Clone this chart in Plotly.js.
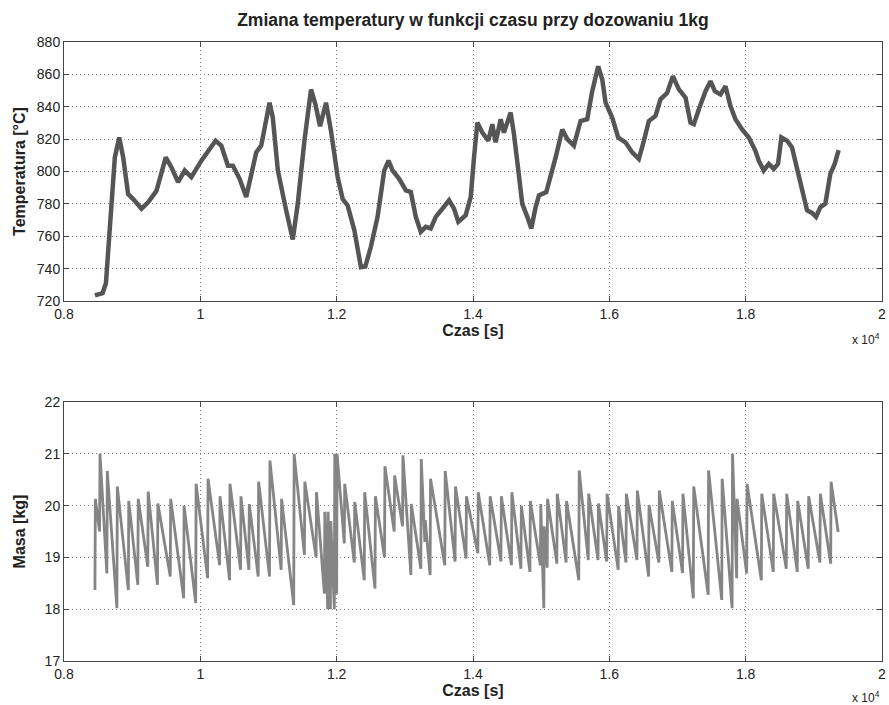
<!DOCTYPE html>
<html>
<head>
<meta charset="utf-8">
<script src="https://cdn.plot.ly/plotly-3.0.1.min.js"></script>
<style>html,body{margin:0;padding:0;background:#fff;}#chart{width:889px;height:705px;}</style>
</head>
<body>
<div id="chart"></div>
<script>
// Temperature series (time in s, temperature in °C)
const tempTime = [8454,8566,8615,8663,8698,8746,8810,8868,8941,9015,9137,9234,9356,9493,9576,9673,9771,9868,10015,10112,10224,10307,10405,10478,10576,10673,10746,10820,10893,10956,11015,11063,11137,11259,11356,11429,11527,11624,11688,11756,11844,11917,12015,12088,12161,12259,12356,12420,12502,12600,12698,12761,12820,12917,13015,13088,13161,13234,13307,13380,13454,13551,13649,13722,13785,13893,13966,14015,14064,14137,14225,14283,14332,14406,14454,14552,14601,14665,14723,14797,14855,14919,14968,15075,15138,15212,15310,15383,15480,15578,15676,15749,15837,15896,15945,16042,16130,16237,16336,16433,16507,16580,16677,16751,16849,16932,17020,17118,17191,17240,17313,17411,17484,17548,17631,17704,17777,17850,17948,18046,18143,18192,18265,18339,18412,18475,18524,18607,18680,18753,18827,18900,18973,19032,19096,19169,19242,19306,19364];
const tempValue = [723.5,724.9,731,759.7,788,808.7,821,808.7,786,783,777,781,788,808.7,802.6,793.4,800.6,796.5,806.7,812.8,819,816,803.6,803.6,795.5,784.2,796.5,811.8,816,831,842.5,833.3,800.6,776,758,780,819,850.7,841.5,828,842.5,825,796.5,783,779,763.8,740.9,741.3,753.5,772,800.6,806.7,800.6,795.5,788.3,787.3,772,762.7,765.8,764.8,772,777,782.2,777,768.9,773,784.2,808.7,830.2,824,819,829.2,818,832.3,824,836.4,823,800.6,780,772,764.8,778,785.2,787.3,796.5,808.7,826,820,816,831.2,832.3,849.6,865,856.8,842.5,833.3,821,818,811.8,807.7,819,831.2,834.3,844.6,848.6,858.9,850.7,845.6,830.2,829.2,838.4,849.6,855.8,849.6,847.6,852.7,840.4,832.3,826,821,812.8,806.7,800.6,804.7,801.6,804.7,821,819,814.9,802.6,788.3,776,774.4,772,778,780.1,798.5,804.7,813.2];

// Mass series: each dosing tooth = time of rise (s), mass just before rise, mass after rise (kg)
const riseTime = [8454,8522,8629,8776,8944,9083,9229,9371,9559,9756,9932,10107,10283,10429,10590,10712,10849,11015,11186,11370,11527,11698,11820,11868,11908,11966,12000,12112,12259,12405,12562,12702,12844,12966,13089,13235,13293,13371,13586,13737,13898,14071,14246,14410,14564,14703,14835,14988,15039,15088,15230,15366,15552,15691,15834,15961,16130,16244,16405,16576,16727,16917,17074,17232,17450,17649,17801,17868,18015,18230,18405,18596,18757,18918,19089,19247];
const troughMass = [18.37,19.5,18.69,18.02,18.37,18.47,18.82,18.47,18.63,18.21,18.12,18.6,18.85,18.56,18.76,18.76,18.63,18.63,18.76,18.08,19.05,19.0,18.3,18.0,18.0,18.0,18.3,19.27,18.9,18.56,18.4,19.0,19.5,19.6,18.66,18.78,19.3,18.66,18.85,18.92,18.98,19.08,18.85,18.92,18.85,18.78,18.72,18.85,18.02,18.8,18.88,18.9,18.56,18.95,18.95,18.92,18.76,18.9,18.95,18.63,18.9,18.72,18.7,18.21,18.28,18.18,18.02,18.6,18.69,18.56,18.72,18.78,18.72,18.78,18.9,18.88];
const peakMass = [20.13,21.0,20.67,20.37,20.09,20.13,20.27,20.04,20.13,20.0,20.42,20.52,20.18,20.42,20.18,20.03,20.46,20.87,20.13,21.0,20.46,20.26,19.88,19.88,19.7,21.0,21.0,20.42,20.07,20.26,20.18,20.76,20.58,20.97,20.03,20.9,19.72,20.52,20.67,20.37,20.18,20.26,20.18,20.18,20.26,20.0,20.09,20.03,19.6,20.13,20.23,20.09,20.68,20.23,20.04,20.23,19.99,20.23,20.29,20.01,20.29,20.09,20.23,20.37,20.68,20.52,21.0,20.13,20.42,20.23,20.23,20.23,20.09,20.18,20.23,20.46];
const endTime = 19357, endMass = 19.49;

const xTickVals = [8000,10000,12000,14000,16000,18000,20000];
const xTickText = ['0.8','1','1.2','1.4','1.6','1.8','2'];

const massX = [], massY = [];
for (let i = 0; i < riseTime.length; i++) {
  massX.push(riseTime[i], riseTime[i] + 6);
  massY.push(troughMass[i], peakMass[i]);
}
massX.push(endTime); massY.push(endMass);

const FONT = 'Liberation Sans, Arial, sans-serif';
const axisCommon = {
  showline: true, linecolor: '#444', linewidth: 1, mirror: 'ticks',
  ticks: 'inside', ticklen: 5, tickcolor: '#444',
  showgrid: true, gridcolor: '#888', griddash: '1px,3px', gridwidth: 1,
  zeroline: false, tickfont: {family: FONT, size: 14, color: '#222'}
};
const titleFont = {family: FONT, size: 16, color: '#222'};

const data = [
  {x: tempTime, y: tempValue, type: 'scatter', mode: 'lines', xaxis: 'x', yaxis: 'y',
   line: {color: '#555555', width: 4.5}, hoverinfo: 'skip'},
  {x: massX, y: massY, type: 'scatter', mode: 'lines', xaxis: 'x2', yaxis: 'y2',
   line: {color: '#858585', width: 2.8}, hoverinfo: 'skip'}
];

const layout = {
  width: 889, height: 705, showlegend: false,
  paper_bgcolor: '#fff', plot_bgcolor: '#fff',
  margin: {l: 64, r: 7, t: 42, b: 44},
  title: {text: '<b>Zmiana temperatury w funkcji czasu przy dozowaniu 1kg</b>', x: 0.532, xanchor: 'center', y: 0.972, yanchor: 'middle',
          font: {family: FONT, size: 17.5, color: '#222'}},
  xaxis: Object.assign({}, axisCommon, {domain: [0,1], anchor: 'y', range: [8000,20000], tickvals: xTickVals, ticktext: xTickText,
          title: {text: '<b>Czas [s]</b>', font: titleFont, standoff: 4}}),
  yaxis: Object.assign({}, axisCommon, {domain: [0.5816,1], anchor: 'x', range: [720,880], dtick: 20,
          title: {text: '<b>Temperatura [°C]</b>', font: titleFont, standoff: 7}}),
  xaxis2: Object.assign({}, axisCommon, {domain: [0,1], anchor: 'y2', range: [8000,20000], tickvals: xTickVals, ticktext: xTickText,
          title: {text: '<b>Czas [s]</b>', font: titleFont, standoff: 4}}),
  yaxis2: Object.assign({}, axisCommon, {domain: [0,0.4184], anchor: 'x2', range: [17,22], dtick: 1,
          title: {text: '<b>Masa [kg]</b>', font: titleFont, standoff: 15}}),
  annotations: [
    {text: 'x 10<sup>4</sup>', xref: 'paper', yref: 'paper', x: 1, y: 0.5816, xanchor: 'right', yanchor: 'top', yshift: -28,
     showarrow: false, font: {family: FONT, size: 12, color: '#222'}},
    {text: 'x 10<sup>4</sup>', xref: 'paper', yref: 'paper', x: 1, y: 0, xanchor: 'right', yanchor: 'top', yshift: -26,
     showarrow: false, font: {family: FONT, size: 12, color: '#222'}}
  ]
};

Plotly.newPlot('chart', data, layout, {displayModeBar: false, staticPlot: true});
</script>
</body>
</html>
